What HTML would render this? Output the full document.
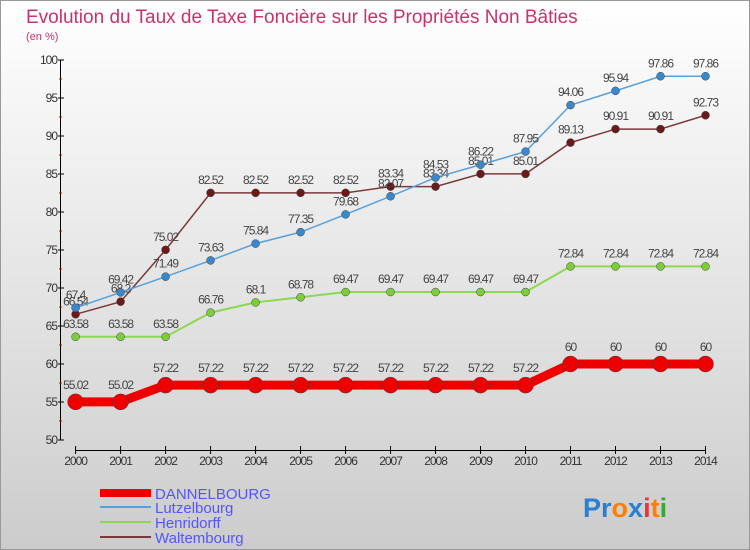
<!DOCTYPE html>
<html><head><meta charset="utf-8"><style>
body{margin:0;width:750px;height:550px;overflow:hidden}
svg{display:block;font-family:"Liberation Sans",sans-serif}
</style></head><body>
<svg id="chart" width="750" height="550" xmlns="http://www.w3.org/2000/svg">
<defs><linearGradient id="bg" x1="0" y1="0" x2="0" y2="1"><stop offset="0" stop-color="#ffffff"/><stop offset="1" stop-color="#cccccc"/></linearGradient></defs>
<rect x="0.5" y="0.5" width="749" height="549" fill="url(#bg)" stroke="#999"/>
<text x="26" y="23" font-size="19" fill="#c8336e">Evolution du Taux de Taxe Foncière sur les Propriétés Non Bâties</text>
<text x="26" y="40" font-size="11" fill="#c8336e">(en %)</text>
<g id="axes"></g><g id="series"></g>
<g font-size="15" fill="#5555ff">
<line x1="100" y1="493" x2="151" y2="493" stroke="#ee0000" stroke-width="8"/>
<text x="155" y="499">DANNELBOURG</text>
<line x1="100" y1="507" x2="151" y2="507" stroke="#5aa0d8" stroke-width="2"/>
<text x="155" y="513">Lutzelbourg</text>
<line x1="100" y1="522" x2="151" y2="522" stroke="#8cd850" stroke-width="2"/>
<text x="155" y="528">Henridorff</text>
<line x1="100" y1="537" x2="151" y2="537" stroke="#7a3a3a" stroke-width="2"/>
<text x="155" y="543">Waltembourg</text>
</g>
<text x="583" y="517" font-size="27" font-weight="bold"><tspan fill="#2a7fd0">Pr</tspan><tspan fill="#ff8000">o</tspan><tspan fill="#2a7fd0">x</tspan><tspan fill="#ee3333">i</tspan><tspan fill="#ff8000">t</tspan><tspan fill="#33aa33">i</tspan></text>
</svg>
<script>
const years=[2000,2001,2002,2003,2004,2005,2006,2007,2008,2009,2010,2011,2012,2013,2014];
const dannelbourg=[55.02,55.02,57.22,57.22,57.22,57.22,57.22,57.22,57.22,57.22,57.22,60,60,60,60];
const lutzelbourg=[67.4,69.42,71.49,73.63,75.84,77.35,79.68,82.07,84.53,86.22,87.95,94.06,95.94,97.86,97.86];
const henridorff=[63.58,63.58,63.58,66.76,68.1,68.78,69.47,69.47,69.47,69.47,69.47,72.84,72.84,72.84,72.84];
const waltembourg=[66.54,68.2,75.02,82.52,82.52,82.52,82.52,83.34,83.34,85.01,85.01,89.13,90.91,90.91,92.73];
const yTicks=[50,55,60,65,70,75,80,85,90,95,100];
const NS="http://www.w3.org/2000/svg";
const xS=i=>75.6+i*(705.5-75.6)/(years.length-1);
const yS=v=>440-(v-50)*(380/50);
function mk(tag,attrs,parent,txt){const e=document.createElementNS(NS,tag);for(const k in attrs)e.setAttribute(k,attrs[k]);if(txt!==undefined)e.textContent=txt;parent.appendChild(e);return e;}
const ax=document.getElementById('axes');
let e=mk('line',{x1:60.5,y1:60,x2:60.5,y2:440,stroke:'#000'},ax);

e=mk('line',{x1:75.6,y1:450.5,x2:705.5,y2:450.5,stroke:'#000'},ax);

yTicks.forEach(t=>{const y=yS(t);
 mk('line',{x1:58,y1:y,x2:64,y2:y,stroke:'#000'},ax);
 if(t<100)mk('line',{x1:59,y1:yS(t+2.5),x2:62,y2:yS(t+2.5),stroke:'#e00'},ax);
 e=mk('text',{x:57,y:y+4,'font-size':12,'text-anchor':'end',fill:'#333','letter-spacing':'-1'},ax,t);
 });
years.forEach((yr,i)=>{const x=xS(i);
 mk('line',{x1:x,y1:446,x2:x,y2:454,stroke:'#000'},ax);
 e=mk('text',{x:x,y:465,'font-size':12,'text-anchor':'middle',fill:'#333','letter-spacing':'-1'},ax,yr);
 });
const sg=document.getElementById('series');
function draw(vals,name,color,w,r,dot){
 const g=mk('g',{},sg);
 
 const p=mk('polyline',{points:vals.map((v,i)=>xS(i)+','+yS(v)).join(' '),fill:'none',stroke:color,'stroke-width':w},g);
 
 vals.forEach((v,i)=>{
  const c=mk('circle',{cx:xS(i),cy:yS(v),r:r,fill:dot,stroke:'#444','stroke-width':0.5},g);
  
  const t=mk('text',{x:xS(i),y:yS(v)-(r+5),'font-size':12,'text-anchor':'middle',fill:'#444','letter-spacing':'-1'},g,v);
  });
}
draw(henridorff,'henridorff','#8cd850',2,4,'#7ccc3c');
draw(waltembourg,'waltembourg','#7a3a3a',1.5,4,'#6a1a1a');
draw(lutzelbourg,'lutzelbourg','#5aa0d8',1.5,4,'#3a88cc');
draw(dannelbourg,'dannelbourg','#ee0000',9,8,'#ee0000');
</script>
</body></html>
